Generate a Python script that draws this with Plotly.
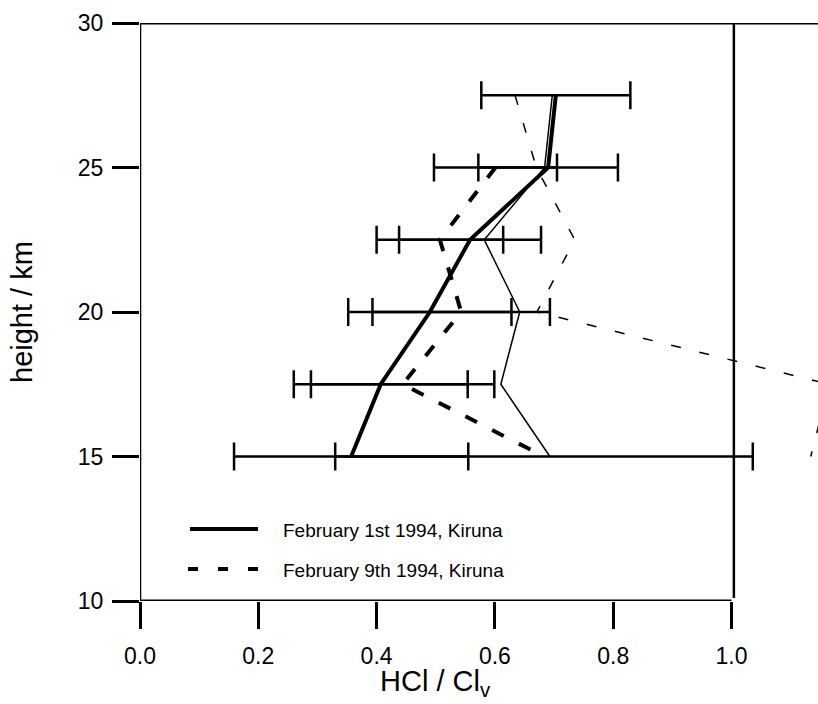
import plotly.graph_objects as go

# ---- data ----
heights_feb1 = [27.5, 25, 22.5, 20, 17.5, 15]
hcl_feb1 = [0.703, 0.690, 0.558, 0.490, 0.407, 0.357]
err_feb1 = [0.126, 0.118, 0.120, 0.138, 0.147, 0.198]

heights_feb9 = [25, 22.5, 20, 17.5, 15]
hcl_feb9 = [0.601, 0.507, 0.543, 0.444, 0.683]
err_feb9 = [0.104, 0.107, 0.150, 0.155, 0.353]

heights_model = [27.5, 25, 22.5, 20, 17.5, 15]
model_feb1 = [0.697, 0.684, 0.582, 0.642, 0.610, 0.693]
model_feb9 = [0.634, 0.670, 0.735, 0.671, 1.165, 1.134]

x_ticks = [0.0, 0.2, 0.4, 0.6, 0.8, 1.0]
x_ticktext = ["0.0", "0.2", "0.4", "0.6", "0.8", "1.0"]
y_ticks = [10, 15, 20, 25, 30]
y_ticktext = ["10", "15", "20", "25", "30"]

legend_labels = ["February 1st 1994, Kiruna", "February 9th 1994, Kiruna"]

FONT = "Liberation Sans, Arial, Helvetica, sans-serif"

fig = go.Figure()

# thin model-like lines
fig.add_trace(go.Scatter(x=model_feb1, y=heights_model, mode="lines",
                         line=dict(color="black", width=1.5), showlegend=False))
fig.add_trace(go.Scatter(x=model_feb9, y=heights_model, mode="lines",
                         line=dict(color="black", width=1.5, dash="10px,19px"),
                         showlegend=False))

# measured profiles with error bars
fig.add_trace(go.Scatter(x=hcl_feb1, y=heights_feb1, mode="lines",
                         name=legend_labels[0],
                         line=dict(color="black", width=4),
                         error_x=dict(type="data", array=err_feb1, visible=True,
                                      color="black", thickness=2.5, width=14),
                         showlegend=False))
fig.add_trace(go.Scatter(x=hcl_feb9, y=heights_feb9, mode="lines",
                         name=legend_labels[1],
                         line=dict(color="black", width=4, dash="13px,17px"),
                         error_x=dict(type="data", array=err_feb9, visible=True,
                                      color="black", thickness=2.5, width=14),
                         showlegend=False))

x_right = 678 / 591.5

shapes = [
    # frame
    dict(type="line", xref="paper", yref="y", x0=0, x1=1, y0=30, y1=30,
         line=dict(color="black", width=3)),
    dict(type="line", xref="x", yref="y", x0=0, x1=0, y0=10, y1=30,
         line=dict(color="black", width=2.5)),
    dict(type="line", xref="x", yref="y", x0=0, x1=1.0, y0=10, y1=10,
         line=dict(color="black", width=3)),
    dict(type="line", xref="x", yref="y", x0=1.004, x1=1.004, y0=10.1, y1=30,
         line=dict(color="black", width=2.5)),
]

# legend samples (paper coords from pixels)
def px_x(p):
    return (p - 140) / 678.0

def px_y(p):
    return (601 - p) / 578.0

shapes.append(dict(type="line", xref="paper", yref="paper",
                   x0=px_x(190), x1=px_x(258), y0=px_y(529), y1=px_y(529),
                   line=dict(color="black", width=4)))
shapes.append(dict(type="line", xref="paper", yref="paper",
                   x0=px_x(188), x1=px_x(260), y0=px_y(569), y1=px_y(569),
                   line=dict(color="black", width=4, dash="10px,20px")))

annotations = [
    dict(text=legend_labels[0], xref="paper", yref="paper", x=px_x(281), y=px_y(530),
         xanchor="left", yanchor="middle", showarrow=False,
         font=dict(family=FONT, size=19, color="black")),
    dict(text=legend_labels[1], xref="paper", yref="paper", x=px_x(281), y=px_y(570),
         xanchor="left", yanchor="middle", showarrow=False,
         font=dict(family=FONT, size=19, color="black")),
    dict(text="HCl / Cl<sub>v</sub>", xref="x", yref="paper", x=0.5, y=px_y(683),
         xanchor="center", yanchor="middle", showarrow=False,
         font=dict(family=FONT, size=29, color="black")),
    dict(text="height / km", xref="paper", yref="y", x=px_x(22), y=20,
         xanchor="center", yanchor="middle", textangle=-90, showarrow=False,
         font=dict(family=FONT, size=29, color="black")),
]

fig.update_layout(
    width=818, height=704,
    margin=dict(l=140, r=0, t=23, b=103),
    paper_bgcolor="white", plot_bgcolor="white",
    showlegend=False,
    shapes=shapes, annotations=annotations,
    xaxis=dict(range=[0, x_right], tickvals=x_ticks, ticktext=x_ticktext,
               ticks="outside", ticklen=27, tickwidth=2.5, tickcolor="black",
               ticklabelstandoff=7,
               showgrid=False, zeroline=False, showline=False,
               tickfont=dict(family=FONT, size=23, color="black")),
    yaxis=dict(range=[10, 30], tickvals=y_ticks, ticktext=y_ticktext,
               ticks="outside", ticklen=27, tickwidth=2.5, tickcolor="black",
               ticklabelstandoff=4,
               showgrid=False, zeroline=False, showline=False,
               tickfont=dict(family=FONT, size=23, color="black")),
)

fig.write_html("out.html")
